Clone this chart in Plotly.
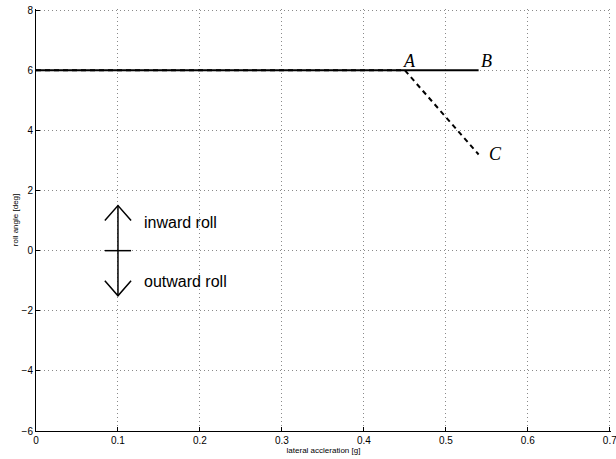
import plotly.graph_objects as go

# Data
solid_x = [0.0, 0.54]
solid_y = [6.0, 6.0]
dash_x = [0.0, 0.45, 0.54]
dash_y = [6.0, 6.0, 3.2]

point_labels = ["A", "B", "C"]
point_x = [0.45, 0.54, 0.55]
point_y = [6.0, 6.0, 3.2]

arrow_shaft_x = [0.1, 0.1]
arrow_shaft_y = [1.5, -1.5]
arrow_up_x = [0.084, 0.1, 0.116]
arrow_up_y = [1.0, 1.5, 1.0]
arrow_down_x = [0.084, 0.1, 0.116]
arrow_down_y = [-1.0, -1.5, -1.0]
zero_mark_x = [0.084, 0.116]
zero_mark_y = [0.0, 0.0]

roll_labels = ["inward roll", "outward roll"]
roll_label_x = [0.129, 0.129]
roll_label_y = [0.95, -1.02]

x_ticks = [0, 0.1, 0.2, 0.3, 0.4, 0.5, 0.6, 0.7]
y_ticks = [-6, -4, -2, 0, 2, 4, 6, 8]

fig = go.Figure()
fig.add_trace(go.Scatter(x=solid_x, y=solid_y, mode="lines",
                         line=dict(color="black", width=2), showlegend=False))
fig.add_trace(go.Scatter(x=dash_x, y=dash_y, mode="lines",
                         line=dict(color="black", width=2, dash="5px,4px"), showlegend=False))
for xs, ys in [(arrow_shaft_x, arrow_shaft_y), (arrow_up_x, arrow_up_y),
               (arrow_down_x, arrow_down_y), (zero_mark_x, zero_mark_y)]:
    fig.add_trace(go.Scatter(x=xs, y=ys, mode="lines",
                             line=dict(color="black", width=1.5), showlegend=False))

for t, x, y in zip(point_labels, point_x, point_y):
    fig.add_annotation(x=x, y=y, text="<i>%s</i>" % t, showarrow=False, xanchor="left", yanchor="bottom",
                       xshift=-4 if t == "A" else 0, yshift=-3 if t != "C" else -12,
                       font=dict(family="Liberation Serif", size=18, color="black"))
for t, x, y in zip(roll_labels, roll_label_x, roll_label_y):
    fig.add_annotation(x=x, y=y, text=t, showarrow=False, xanchor="left", yanchor="middle",
                       font=dict(family="Liberation Sans", size=16, color="black"))

axis_common = dict(
    showline=True, linecolor="black", linewidth=1,
    ticks="inside", ticklen=4, tickcolor="black", tickwidth=1,
    showgrid=True, gridcolor="#8a8a8a", gridwidth=1, griddash="1px,3px",
    zeroline=False, mirror=False, ticklabeloverflow="allow", automargin=False,
    tickfont=dict(family="Liberation Sans", size=10, color="black"),
)
fig.update_xaxes(range=[0, 0.7015], tickvals=x_ticks, ticktext=[("%g" % v) for v in x_ticks],
                 title=dict(text="lateral accleration [g]", standoff=1,
                            font=dict(family="Liberation Sans", size=8, color="black")),
                 **axis_common)
fig.update_yaxes(range=[-6, 8.04], tickvals=y_ticks,
                 ticktext=[("\u2212%d" % -v) if v < 0 else "%d" % v for v in y_ticks],
                 title=dict(text="roll angle [deg]", standoff=1,
                            font=dict(family="Liberation Sans", size=8, color="black")),
                 **axis_common)
fig.update_layout(width=616, height=459, margin=dict(l=36, r=5, t=9, b=28),
                  plot_bgcolor="white", paper_bgcolor="white")
fig.write_html("out.html")
